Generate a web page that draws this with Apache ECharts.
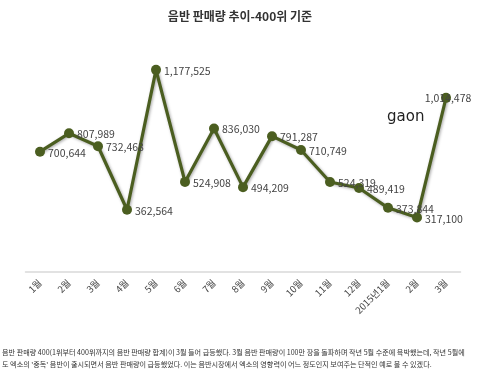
<!DOCTYPE html>
<html><head><meta charset="utf-8">
<script src="https://cdn.jsdelivr.net/npm/echarts@6/dist/echarts.min.js"></script>
<style>html,body{margin:0;padding:0;background:#fff}#c{width:480px;height:383px}</style>
</head><body><div id="c"></div>
<script>
const titleText = '음반 판매량 추이-400위 기준';
const categories = ['1월','2월','3월','4월','5월','6월','7월','8월','9월','10월','11월','12월','2015년1월','2월','3월'];
const sales = [700644, 807989, 732468, 362564, 1177525, 524908, 836030, 494209, 791287, 710749, 524319, 489419, 373844, 317100, 1014478];
const caption1 = "음반 판매량 400(1위부터 400위까지의 음반 판매량 합계)이 3월 들어 급등했다. 3월 음반 판매량이 100만 장을 돌파하며 작년 5월 수준에 육박했는데, 작년 5월에";
const caption2 = "도 엑소의 '중독' 음반이 출시되면서 음반 판매량이 급등했었다. 이는 음반시장에서 엑소의 영향력이 어느 정도인지 보여주는 단적인 예로 볼 수 있겠다.";

const font = '"Noto Sans CJK KR", "Noto Sans", sans-serif';
const chart = echarts.init(document.getElementById('c'));
const data = sales.map((v, i) => {
  const d = {value: v};
  if (i === sales.length - 1) d.label = {position: 'inside', offset: [2, 0]};
  return d;
});
chart.setOption({
  animation: false,
  backgroundColor: '#fff',
  title: {text: titleText, left: 'center', top: 5, textStyle: {fontFamily: font, fontSize: 12, fontWeight: 'bold', color: '#333'}},
  grid: {left: 25.5, right: 19.5, top: 66, bottom: 111},
  xAxis: {
    type: 'category', data: categories, boundaryGap: true,
    axisLine: {lineStyle: {color: '#d9d9d9', width: 1.5}},
    axisTick: {show: false},
    axisLabel: {rotate: 45, fontFamily: font, fontSize: 9.5, color: '#444', margin: 9, interval: 0}
  },
  yAxis: {type: 'value', min: 0, max: 1200000, show: false, splitLine: {show: false}},
  series: [{
    type: 'line', data: data,
    symbol: 'circle', symbolSize: 10,
    itemStyle: {color: '#4b5e20'},
    lineStyle: {color: '#4b5e20', width: 3.2, shadowColor: 'rgba(0,0,0,0.35)', shadowBlur: 3, shadowOffsetX: 1, shadowOffsetY: 1},
    label: {show: true, position: 'right', distance: 3, offset: [0, 1], fontFamily: font, fontSize: 10.5, color: '#444',
      formatter: p => p.value.toLocaleString('en-US')}
  }],
  graphic: [
    {type: 'text', left: 387, top: 110, style: {text: 'gaon', font: 'normal 15px "DejaVu Sans", sans-serif', fill: '#222'}},
    {type: 'text', left: 2, top: 346, style: {text: caption1 + '\n' + caption2, font: '7.1px ' + font, fill: '#333', lineHeight: 12}}
  ]
});
</script></body></html>
